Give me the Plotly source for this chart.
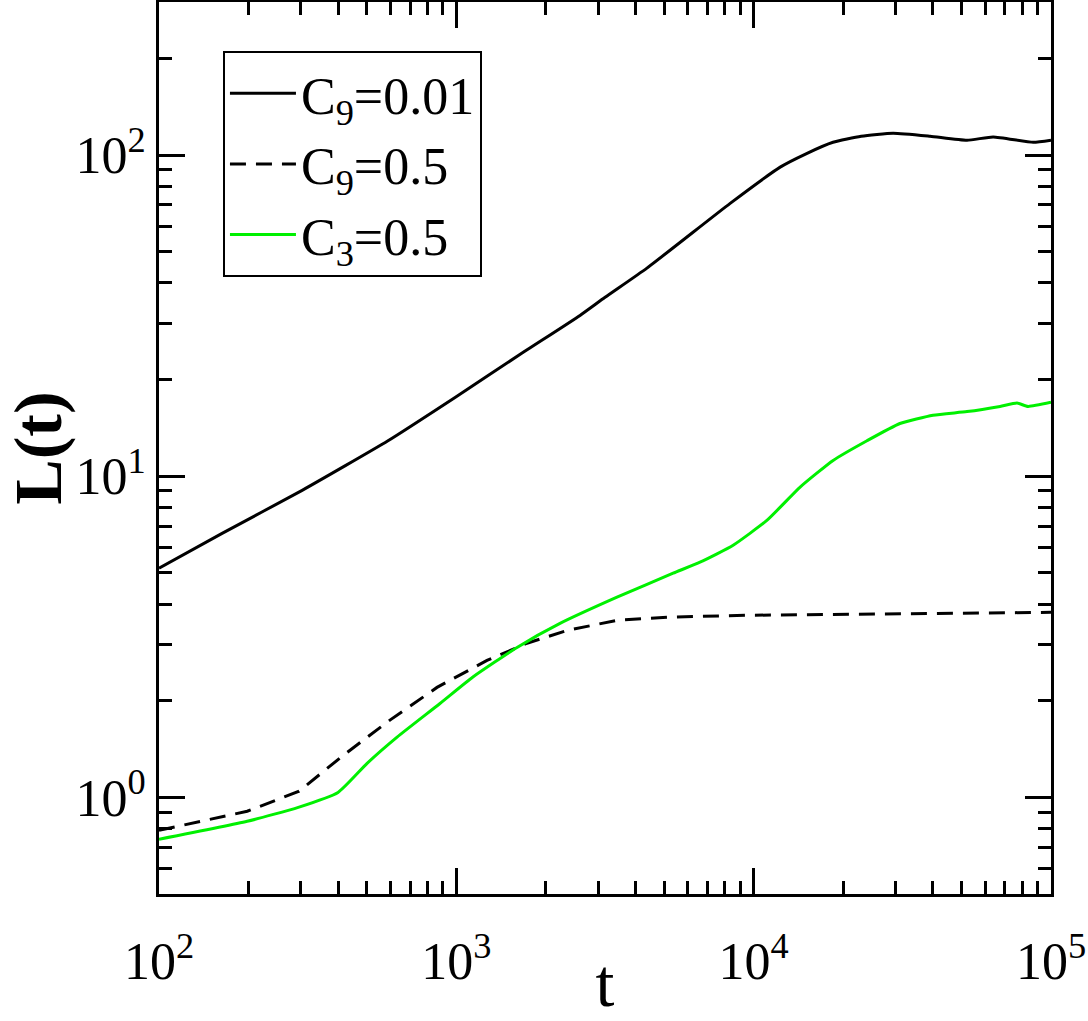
import plotly.graph_objects as go
import math

# C9 = 0.01 (black solid)
t_c9_001 = [100, 163, 303, 589, 990, 1664, 2606, 3164, 4375, 8335, 12280, 15000, 18490,
            23000, 29440, 39200, 52200, 63900, 87100, 100000]
L_c9_001 = [5.17, 6.64, 9.04, 12.9, 17.6, 24.2, 31.7, 36.1, 44.5, 70.8, 91.8, 101.0, 109.7,
            114.5, 117.1, 114.6, 111.3, 114.0, 109.7, 111.3]

# C9 = 0.5 (black dashed)
t_c9_05 = [100, 198, 296, 416, 598, 861, 1268, 1728, 2356, 3470, 5110, 9500, 100000]
L_c9_05 = [0.789, 0.905, 1.045, 1.35, 1.74, 2.20, 2.67, 3.02, 3.31, 3.56, 3.64, 3.69, 3.77]

# C3 = 0.5 (green)
t_c3_05 = [100, 198, 294, 400, 501, 632, 881, 1137, 1600, 2232, 3470, 5360, 6600, 8530,
           11100, 14330, 18500, 24050, 31040, 40100, 52200, 67400, 76900, 83700, 100000]
L_c3_05 = [0.740, 0.842, 0.931, 1.036, 1.276, 1.54, 1.96, 2.37, 2.93, 3.48, 4.20, 4.99, 5.40, 6.10,
           7.30, 9.25, 11.2, 12.9, 14.6, 15.5, 15.9, 16.5, 16.9, 16.5, 17.0]

x_tickvals = [100, 1000, 10000, 100000]
x_ticktext = ["10<sup>2</sup>", "10<sup>3</sup>", "10<sup>4</sup>", "10<sup>5</sup>"]
y_tickvals = [1, 10, 100]
y_ticktext = ["10<sup>0</sup>", "10<sup>1</sup>", "10<sup>2</sup>"]

FONT = "Liberation Serif, Times New Roman, serif"

fig = go.Figure()
fig.add_trace(go.Scatter(x=t_c9_001, y=L_c9_001, mode="lines",
                         name="C<sub>9</sub>=0.01",
                         line=dict(color="black", width=3, shape="spline", smoothing=0.5)))
fig.add_trace(go.Scatter(x=t_c9_05, y=L_c9_05, mode="lines",
                         name="C<sub>9</sub>=0.5",
                         line=dict(color="black", width=3, dash="16px,10px")))
fig.add_trace(go.Scatter(x=t_c3_05, y=L_c3_05, mode="lines",
                         name="C<sub>3</sub>=0.5",
                         line=dict(color="#00f000", width=3, shape="spline", smoothing=0.5)))

axis_common = dict(
    showline=True, linecolor="black", linewidth=3, mirror="allticks",
    ticks="inside", ticklen=26, tickwidth=3, tickcolor="black",
    showgrid=False, zeroline=False, automargin=False,
    tickfont=dict(family=FONT, size=52, color="black"),
    minor=dict(ticks="inside", ticklen=13, tickwidth=3, tickcolor="black",
               dtick="D1", showgrid=False),
)

fig.update_xaxes(type="log", range=[2, 5], tickmode="array",
                 tickvals=x_tickvals, ticktext=x_ticktext,
                 ticklabelstandoff=20,
                 title=dict(text="t", font=dict(family=FONT, size=68, color="black"),
                            standoff=0),
                 **axis_common)
fig.update_yaxes(type="log", range=[math.log10(0.5), math.log10(300)], tickmode="array",
                 tickvals=y_tickvals, ticktext=y_ticktext,
                 title=dict(text="<b>L(t)</b>", font=dict(family=FONT, size=68, color="black"),
                            standoff=10),
                 **axis_common)

fig.update_layout(
    width=1088, height=1021,
    margin=dict(l=159, r=37, t=2, b=127),
    paper_bgcolor="white", plot_bgcolor="white",
    font=dict(family=FONT, color="black"),
    legend=dict(x=0.0717, y=0.945, xanchor="left", yanchor="top",
                bgcolor="white", bordercolor="black", borderwidth=2,
                font=dict(family=FONT, size=52, color="black"),
                itemwidth=66),
    showlegend=True,
)

fig.write_html("out.html")
